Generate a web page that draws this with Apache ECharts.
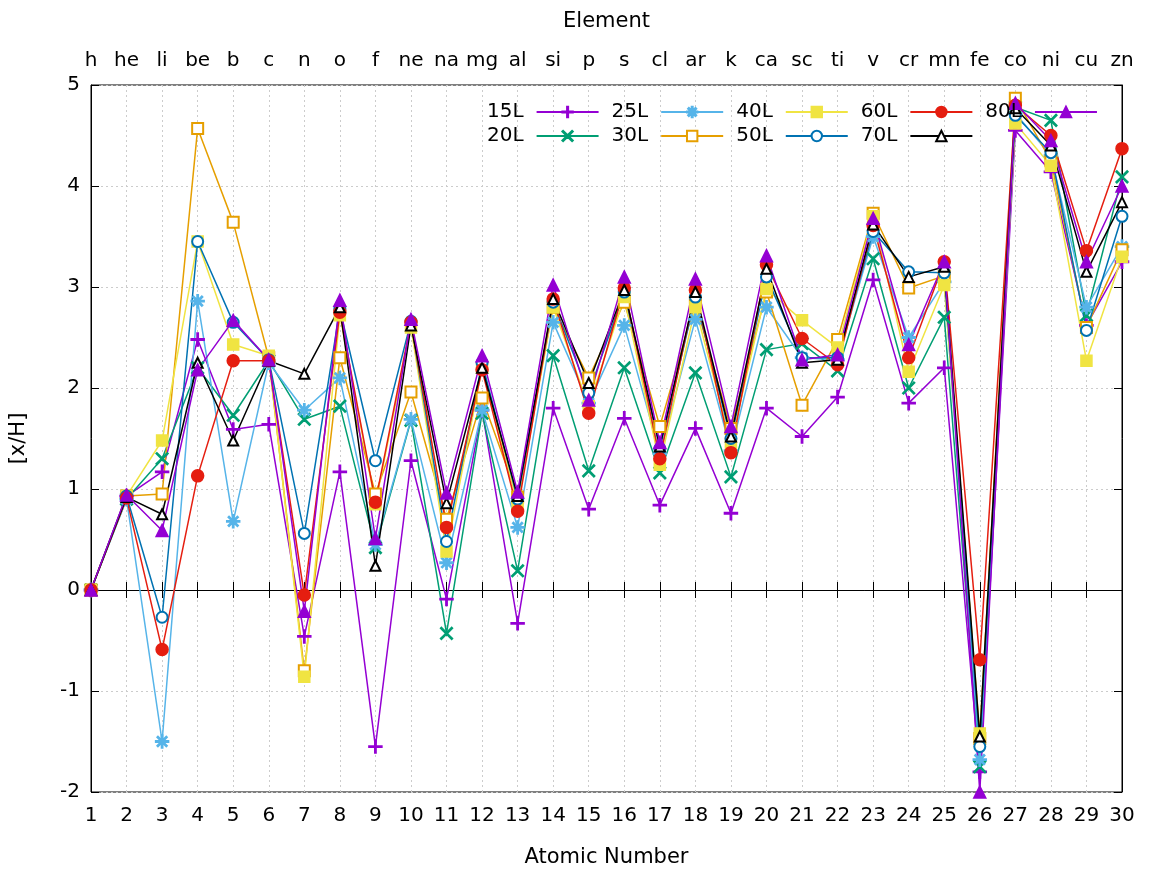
<!DOCTYPE html>
<html>
<head>
<meta charset="utf-8">
<title>[x/H] by element</title>
<script src="https://cdn.jsdelivr.net/npm/echarts@6/dist/echarts.min.js"></script>
<style>
  html, body { margin: 0; padding: 0; background: #ffffff; }
  #chart { width: 1149px; height: 873px; }
</style>
</head>
<body>
<div id="chart"></div>
<script>
// Atomic numbers along the bottom axis, element symbols along the top axis
const atomicNumbers = [1,2,3,4,5,6,7,8,9,10,11,12,13,14,15,16,17,18,19,20,21,22,23,24,25,26,27,28,29,30];
const elements = ['h','he','li','be','b','c','n','o','f','ne','na','mg','al','si','p','s','cl','ar','k','ca','sc','ti','v','cr','mn','fe','co','ni','cu','zn'];

// [x/H] per model, one value per element (Z = 1..30)
const s15L = [0, 0.93, 1.17, 2.48, 1.59, 1.64, -0.46, 1.17, -1.55, 1.28, -0.09, 1.78, -0.33, 1.80, 0.80, 1.70, 0.84, 1.60, 0.76, 1.80, 1.52, 1.91, 3.07, 1.85, 2.20, -1.80, 4.55, 4.14, 2.62, 3.25];
const s20L = [0, 0.90, 1.30, 2.20, 1.73, 2.27, 1.69, 1.82, 0.42, 1.68, -0.43, 1.75, 0.19, 2.32, 1.18, 2.20, 1.16, 2.15, 1.12, 2.38, 2.44, 2.17, 3.28, 2.00, 2.70, -1.75, 4.78, 4.65, 2.72, 4.09];
const s25L = [0, 0.90, -1.50, 2.86, 0.68, 2.25, 1.78, 2.10, 0.45, 1.69, 0.27, 1.78, 0.62, 2.65, 1.85, 2.62, 1.35, 2.68, 1.38, 2.80, 2.30, 2.28, 3.50, 2.50, 3.05, -1.68, 4.72, 4.30, 2.80, 3.40];
const s30L = [0, 0.93, 0.95, 4.57, 3.64, 2.30, -0.80, 2.30, 0.95, 1.96, 0.70, 1.90, 0.92, 2.80, 2.10, 2.85, 1.62, 2.85, 1.60, 2.95, 1.83, 2.48, 3.73, 2.99, 3.11, -1.47, 4.87, 4.25, 2.60, 3.37];
const s40L = [0, 0.93, 1.48, 3.45, 2.43, 2.32, -0.86, 2.72, 0.85, 2.60, 0.38, 2.20, 0.85, 2.80, 1.82, 2.90, 1.24, 2.80, 1.45, 2.98, 2.67, 2.40, 3.70, 2.16, 3.02, -1.42, 4.62, 4.20, 2.27, 3.30];
const s50L = [0, 0.93, -0.27, 3.45, 2.65, 2.28, 0.56, 2.78, 1.28, 2.66, 0.48, 2.25, 0.90, 2.85, 1.95, 2.95, 1.40, 2.90, 1.50, 3.10, 2.30, 2.30, 3.55, 3.15, 3.14, -1.55, 4.70, 4.33, 2.57, 3.70];
const s60L = [0, 0.91, -0.59, 1.13, 2.27, 2.27, -0.05, 2.75, 0.87, 2.65, 0.62, 2.18, 0.78, 2.88, 1.75, 2.99, 1.30, 2.97, 1.36, 3.22, 2.49, 2.23, 3.61, 2.30, 3.25, -0.69, 4.80, 4.50, 3.36, 4.37];
const s70L = [0, 0.92, 0.75, 2.25, 1.48, 2.27, 2.14, 2.80, 0.24, 2.62, 0.86, 2.20, 0.93, 2.88, 2.05, 2.97, 1.42, 2.95, 1.52, 3.18, 2.25, 2.28, 3.62, 3.10, 3.20, -1.45, 4.77, 4.40, 3.15, 3.84];
const s80L = [0, 0.94, 0.59, 2.18, 2.67, 2.28, -0.21, 2.87, 0.51, 2.68, 0.96, 2.32, 0.97, 3.02, 1.88, 3.10, 1.46, 3.08, 1.62, 3.31, 2.28, 2.33, 3.68, 2.43, 3.25, -2.00, 4.82, 4.45, 3.25, 4.00];

const yTicks = [-2, -1, 0, 1, 2, 3, 4, 5];

// point shapes in the gnuplot style
const PLUS  = 'M-1,-10 L1,-10 L1,-1 L10,-1 L10,1 L1,1 L1,10 L-1,10 L-1,1 L-10,1 L-10,-1 L-1,-1 Z';
const CROSS = 'M-10,-8.6 L-8.6,-10 L0,-1.4 L8.6,-10 L10,-8.6 L1.4,0 L10,8.6 L8.6,10 L0,1.4 L-8.6,10 L-10,8.6 L-1.4,0 Z';
const STAR  = PLUS + ' ' + 'M-7.8,-6.4 L-6.4,-7.8 L0,-1.4 L6.4,-7.8 L7.8,-6.4 L1.4,0 L7.8,6.4 L6.4,7.8 L0,1.4 L-6.4,7.8 L-7.8,6.4 L-1.4,0 Z';

const seriesDefs = [
  { name: '15L', data: s15L, color: '#9400d3', symbol: 'path://' + PLUS,  size: 13 },
  { name: '20L', data: s20L, color: '#009e73', symbol: 'path://' + CROSS, size: 12 },
  { name: '25L', data: s25L, color: '#56b4e9', symbol: 'path://' + STAR,  size: 13 },
  { name: '30L', data: s30L, color: '#e69f00', symbol: 'emptyRect',       size: 11 },
  { name: '40L', data: s40L, color: '#f0e442', symbol: 'rect',            size: 11 },
  { name: '50L', data: s50L, color: '#0072b2', symbol: 'emptyCircle',     size: 11 },
  { name: '60L', data: s60L, color: '#e51e10', symbol: 'circle',          size: 12 },
  { name: '70L', data: s70L, color: '#000000', symbol: 'emptyTriangle',   size: 10 },
  { name: '80L', data: s80L, color: '#9400d3', symbol: 'triangle',        size: 12 }
];

const FONT = 'DejaVu Sans';

const series = seriesDefs.map(d => ({
  name: d.name,
  type: 'line',
  data: atomicNumbers.map((z, i) => [z, d.data[i]]),
  symbol: d.symbol,
  symbolSize: d.size,
  showAllSymbol: true,
  clip: false,
  animation: false,
  lineStyle: { color: d.color, width: 1.5 },
  itemStyle: { color: d.color, borderColor: d.color, borderWidth: 1.5 },
  emphasis: { disabled: true }
}));

const legendCommon = {
  orient: 'horizontal',
  align: 'right',
  itemWidth: 62,
  itemHeight: 13,
  itemGap: 12,
  selectedMode: false,
  textStyle: { fontFamily: FONT, fontSize: 20, color: '#000', padding: [0, 8, 0, 0] }
};

const chart = echarts.init(document.getElementById('chart'), null, { renderer: 'canvas' });

chart.setOption({
  backgroundColor: '#ffffff',
  animation: false,
  grid: {
    left: 86, right: 27, top: 85, bottom: 81,
    show: true, borderColor: '#000', borderWidth: 1, backgroundColor: 'transparent'
  },
  legend: [
    Object.assign({ data: ['15L', '25L', '40L', '60L', '80L'], left: 482, top: 97 }, legendCommon),
    Object.assign({ data: ['20L', '30L', '50L', '70L'], left: 482, top: 121 }, legendCommon)
  ],
  xAxis: [
    {
      type: 'value', position: 'bottom', min: 1, max: 30, interval: 1,
      name: 'Atomic Number', nameLocation: 'middle', nameGap: 55,
      nameTextStyle: { fontFamily: FONT, fontSize: 21, color: '#000' },
      axisLine: { show: true, lineStyle: { color: '#000', width: 1 } },
      axisTick: { show: true, inside: true, length: 8, lineStyle: { color: '#000' } },
      axisLabel: { fontFamily: FONT, fontSize: 20, color: '#000', margin: 14 },
      splitLine: { show: true, lineStyle: { color: '#cccccc', type: [2, 3], width: 1 } }
    },
    {
      type: 'value', position: 'top', min: 1, max: 30, interval: 1,
      name: 'Element', nameLocation: 'middle', nameGap: 53,
      nameTextStyle: { fontFamily: FONT, fontSize: 21, color: '#000' },
      axisLine: { show: true, lineStyle: { color: '#000', width: 1 } },
      axisTick: { show: true, inside: true, length: 8, lineStyle: { color: '#000' } },
      axisLabel: {
        fontFamily: FONT, fontSize: 20, color: '#000', margin: 14,
        formatter: v => elements[atomicNumbers.indexOf(Math.round(v))] || ''
      },
      splitLine: { show: false }
    }
  ],
  yAxis: [
    {
      type: 'value', position: 'left', min: yTicks[0], max: yTicks[yTicks.length - 1], interval: 1,
      name: '[x/H]', nameLocation: 'middle', nameGap: 62, nameRotate: 90,
      nameTextStyle: { fontFamily: FONT, fontSize: 21, color: '#000' },
      axisLine: { show: true, lineStyle: { color: '#000', width: 1 } },
      axisTick: { show: true, inside: true, length: 8, lineStyle: { color: '#000' } },
      axisLabel: { fontFamily: FONT, fontSize: 20, color: '#000', margin: 11 },
      splitLine: { show: true, lineStyle: { color: '#cccccc', type: [2, 3], width: 1 } }
    },
    {
      type: 'value', position: 'right', min: yTicks[0], max: yTicks[yTicks.length - 1], interval: 1,
      axisLine: { show: true, lineStyle: { color: '#000', width: 1 } },
      axisTick: { show: true, inside: true, length: 8, lineStyle: { color: '#000' } },
      axisLabel: { show: false },
      splitLine: { show: false }
    }
  ],
  series: series
});
</script>
</body>
</html>
